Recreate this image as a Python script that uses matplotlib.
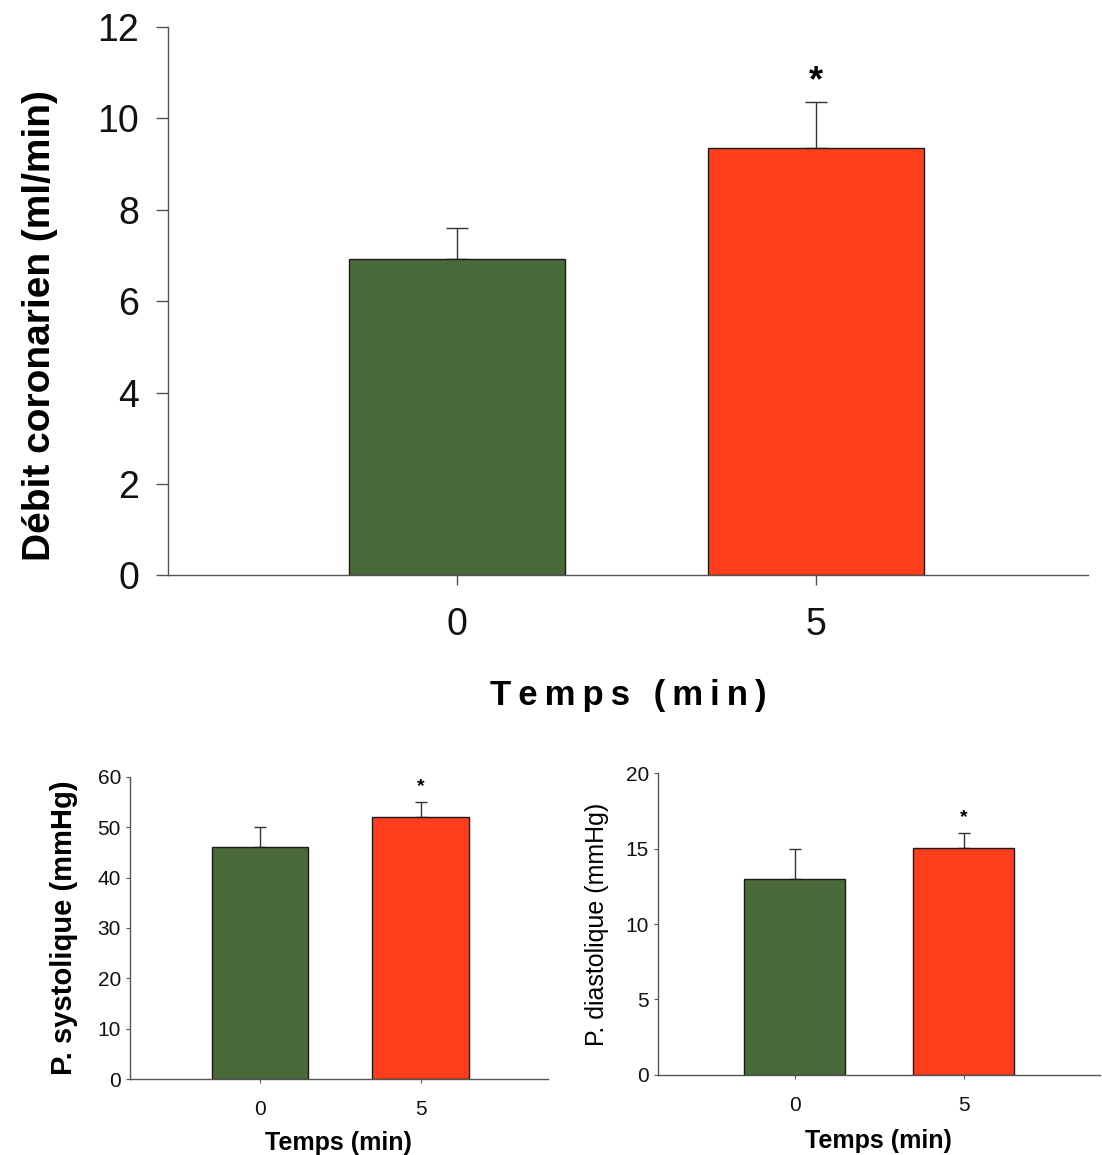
import matplotlib
matplotlib.use("Agg")
import matplotlib.pyplot as plt

plt.rcParams['font.family'] = ['Liberation Sans', 'DejaVu Sans']

temps = ['0', '5']
debit = [6.92, 9.35]
debit_err = [0.68, 1.0]
systo = [46.0, 52.1]
systo_err = [4.0, 3.0]
diasto = [13.0, 15.05]
diasto_err = [2.0, 1.0]
signif = [False, True]

VERT = '#4a6a39'
ROUGE = '#ff3e1e'


def bar_panel(ax, vals, errs, xlim, ylim, yticks, capsize, star_size, star_gap):
    x = range(len(vals))
    ax.bar(x, vals, width=0.6, color=[VERT, ROUGE], edgecolor='#1a1a1a', linewidth=1.0, zorder=2)
    ax.errorbar(x, vals, yerr=[[0] * len(errs), errs], fmt='none', ecolor='#333333',
                elinewidth=1.0, capsize=capsize, capthick=1.0, zorder=1)
    for i, (v, e, s) in enumerate(zip(vals, errs, signif)):
        if s:
            ax.text(i, v + e + star_gap, '*', ha='center', va='center',
                    fontsize=star_size, fontweight='bold')
    ax.set_xlim(*xlim)
    ax.set_ylim(*ylim)
    ax.set_yticks(yticks)
    ax.set_xticks(list(x))
    ax.set_xticklabels(temps)
    for side in ['top', 'right']:
        ax.spines[side].set_visible(False)
    for side in ['left', 'bottom']:
        ax.spines[side].set_color('#555555')
        ax.spines[side].set_linewidth(1.0)
    ax.tick_params(colors='#555555', labelcolor='#111111')


fig = plt.figure(figsize=(11.02, 11.55), dpi=100)

# main panel
ax1 = fig.add_axes([0.1525, 0.502, 0.835, 0.4745])
bar_panel(ax1, debit, debit_err, (-0.805, 1.758), (0, 12), range(0, 13, 2), 8, 26, 0.45)
ax1.tick_params(axis='y', labelsize=27, length=9, width=1.0, pad=12)
ax1.tick_params(axis='x', labelsize=27, length=7, width=1.0, pad=16)
ax1.set_ylabel('Débit coronarien (ml/min)', fontsize=28, fontweight='bold')
ax1.yaxis.set_label_coords(-0.12, 0.455)
# letter-spaced x title, as in the original figure
ax1.set_xlabel('\u2009'.join('Temps (min)'), fontsize=25, fontweight='bold', labelpad=26)

# P. systolique
ax2 = fig.add_axes([0.118, 0.0658, 0.379, 0.2615])
bar_panel(ax2, systo, systo_err, (-0.807, 1.789), (0, 60), range(0, 61, 10), 4, 14, 3.0)
ax2.tick_params(axis='both', labelsize=15, length=3, width=0.8)
ax2.tick_params(axis='x', pad=12)
ax2.set_ylabel('P. systolique (mmHg)', fontsize=21, fontweight='bold', labelpad=14)
ax2.set_xlabel('Temps (min)', fontsize=18, fontweight='bold', labelpad=9)

# P. diastolique
ax3 = fig.add_axes([0.597, 0.0693, 0.401, 0.2614])
bar_panel(ax3, diasto, diasto_err, (-0.81, 1.805), (0, 20), range(0, 21, 5), 4, 14, 1.0)
ax3.tick_params(axis='both', labelsize=15, length=3, width=0.8)
ax3.tick_params(axis='x', pad=12)
ax3.set_ylabel('P. diastolique (mmHg)', fontsize=18, labelpad=12)
ax3.set_xlabel('Temps (min)', fontsize=18, fontweight='bold', labelpad=10)

fig.savefig('out.png', dpi=100)
